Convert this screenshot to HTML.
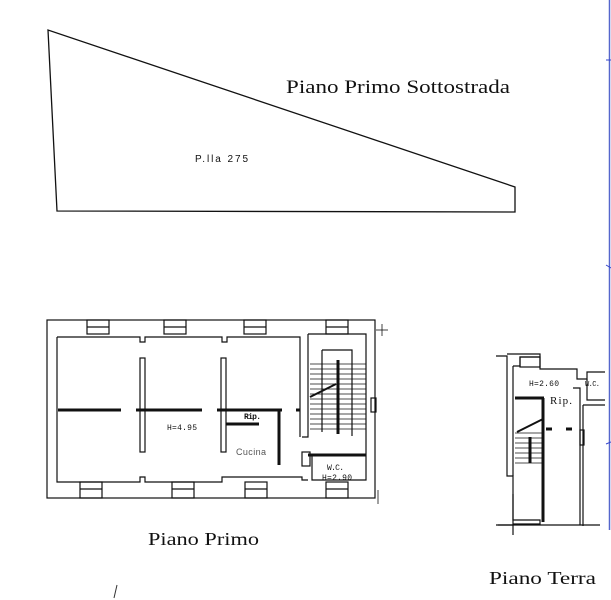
<!DOCTYPE html>
<html><head><meta charset="utf-8"><style>
html,body{margin:0;padding:0;background:#fff;width:611px;height:600px;overflow:hidden}
svg{display:block}
.s{font-family:"Liberation Serif",serif;fill:#111}
.m{font-family:"Liberation Mono",monospace;fill:#111}
.a{font-family:"Liberation Sans",sans-serif;fill:#111}
</style></head><body>
<svg width="611" height="600" viewBox="0 0 611 600" xmlns="http://www.w3.org/2000/svg">
<g fill="none" stroke="#111" stroke-width="1.3">
<polygon points="48,30 57,211 515,212 515,187"/>
</g>
<text class="s" x="286" y="93" font-size="19" textLength="224" lengthAdjust="spacingAndGlyphs">Piano Primo Sottostrada</text>
<text class="a" x="195" y="162" font-size="10" textLength="53">P.lla 275</text>

<g fill="none" stroke="#111" stroke-width="1.2">
<rect x="47" y="320" width="328" height="178"/>
<path d="M57,337 H140 V342 H145 V337 H222 V342 H227 V337 H300 V437"/>
<path d="M57,337 V482 H140 V477 H145 V482 H222 V477 H227 H302 V480 H308"/>
<path d="M308,334 V437 H302"/>
<path d="M308,334 H366 V480 H312 V454"/>
<rect x="87" y="320" width="22" height="14"/><line x1="87" y1="327" x2="109" y2="327"/>
<rect x="164" y="320" width="22" height="14"/><line x1="164" y1="327" x2="186" y2="327"/>
<rect x="244" y="320" width="22" height="14"/><line x1="244" y1="327" x2="266" y2="327"/>
<rect x="326" y="320" width="22" height="14"/><line x1="326" y1="327" x2="348" y2="327"/>
<rect x="80" y="482" width="22" height="16"/><line x1="80" y1="489" x2="102" y2="489"/>
<rect x="172" y="482" width="22" height="16"/><line x1="172" y1="489" x2="194" y2="489"/>
<rect x="245" y="482" width="22" height="16"/><line x1="245" y1="489" x2="267" y2="489"/>
<rect x="326" y="482" width="22" height="16"/><line x1="326" y1="489" x2="348" y2="489"/>
<rect x="140" y="358" width="5" height="94"/>
<rect x="221" y="358" width="5" height="94"/>
<rect x="302" y="452" width="8" height="14"/>
<rect x="371" y="398" width="5" height="14"/>
<path d="M322,350 H352 V436"/>
<line x1="322" y1="350" x2="322" y2="432"/>
</g>
<g stroke="#111" stroke-width="3">
<line x1="58" y1="410" x2="121" y2="410"/>
<line x1="136" y1="410" x2="202" y2="410"/>
<line x1="217" y1="410" x2="282" y2="410"/>
<line x1="226" y1="424" x2="259" y2="424"/>
<line x1="279" y1="410" x2="279" y2="465"/>
<line x1="296" y1="410" x2="300" y2="410"/>
<line x1="308" y1="455" x2="366" y2="455"/>
<line x1="338" y1="360" x2="338" y2="434"/>
</g>
<g stroke="#111" stroke-width="0.8">
<line x1="310" y1="364" x2="366" y2="364"/><line x1="310" y1="369" x2="366" y2="369"/>
<line x1="310" y1="374" x2="366" y2="374"/><line x1="310" y1="379" x2="366" y2="379"/>
<line x1="310" y1="384" x2="366" y2="384"/><line x1="310" y1="389" x2="366" y2="389"/>
<line x1="310" y1="394" x2="366" y2="394"/><line x1="310" y1="399" x2="366" y2="399"/>
<line x1="310" y1="404" x2="366" y2="404"/><line x1="310" y1="409" x2="366" y2="409"/>
<line x1="310" y1="414" x2="366" y2="414"/><line x1="310" y1="419" x2="366" y2="419"/>
<line x1="310" y1="424" x2="366" y2="424"/><line x1="310" y1="429" x2="366" y2="429"/>
<line x1="310" y1="397" x2="336" y2="384" stroke-width="2"/>
<line x1="376" y1="330" x2="388" y2="330"/><line x1="382" y1="324" x2="382" y2="336"/>
<line x1="378" y1="490" x2="378" y2="504"/>
</g>
<text class="m" x="167" y="430" font-size="8" textLength="30">H=4.95</text>
<text class="m" x="244" y="419" font-size="8" font-weight="bold" textLength="17">Rip.</text>
<text class="a" x="236" y="455" font-size="9" style="fill:#555" textLength="30">Cucina</text>
<text class="m" x="327" y="470" font-size="8" textLength="17">W.C.</text>
<text class="m" x="322" y="480" font-size="8" textLength="30">H=2.90</text>
<text class="s" x="148" y="545" font-size="18" textLength="111" lengthAdjust="spacingAndGlyphs">Piano Primo</text>

<g fill="none" stroke="#111" stroke-width="1.2">
<path d="M507,354 H540 V369 H577 V379 H587 V372 H605"/>
<path d="M496,356 H507 V476 H513 V525 H498"/>
<path d="M513,366 V476"/>
<path d="M513,366 H520 V357 H540"/>
<path d="M513,494 V520 H540 V524 H513"/>
<rect x="520" y="357" width="20" height="10"/>
<path d="M573,388 H580 V525"/>
<path d="M583,405 V526"/>
<path d="M583,405 H605"/>
<path d="M587,379 V400 H605"/>
<rect x="580" y="430" width="4" height="15"/>
<path d="M496,525 H600"/>
<path d="M513,525 V535"/>
</g>
<g stroke="#111" stroke-width="3">
<line x1="515" y1="398" x2="544" y2="398"/>
<line x1="543" y1="398" x2="543" y2="522"/>
<line x1="546" y1="429" x2="552" y2="429"/>
<line x1="566" y1="429" x2="572" y2="429"/>
<line x1="530" y1="437" x2="530" y2="463"/>
</g>
<g stroke="#111" stroke-width="0.8">
<line x1="515" y1="433" x2="543" y2="433"/><line x1="515" y1="438" x2="543" y2="438"/>
<line x1="515" y1="443" x2="543" y2="443"/><line x1="515" y1="448" x2="543" y2="448"/>
<line x1="515" y1="453" x2="543" y2="453"/><line x1="515" y1="458" x2="543" y2="458"/>
<line x1="515" y1="463" x2="543" y2="463"/>
<line x1="517" y1="432" x2="543" y2="419" stroke-width="2"/>
</g>
<text class="m" x="529" y="386" font-size="8" textLength="30">H=2.60</text>
<text class="s" x="550" y="404" font-size="11" textLength="22">Rip.</text>
<text class="m" x="585" y="386" font-size="7" textLength="15">W.C.</text>
<text class="s" x="489" y="584" font-size="18" textLength="107" lengthAdjust="spacingAndGlyphs">Piano Terra</text>
<line x1="117" y1="585" x2="114" y2="598" stroke="#333" stroke-width="1"/>

<line x1="609.5" y1="0" x2="609.5" y2="530" stroke="#5566cc" stroke-width="1.5"/>
<g stroke="#3344cc" stroke-width="1">
<line x1="606" y1="60" x2="611" y2="60"/><line x1="606" y1="265" x2="611" y2="268"/><line x1="606" y1="444" x2="611" y2="442"/>
</g>
</svg>
</body></html>
